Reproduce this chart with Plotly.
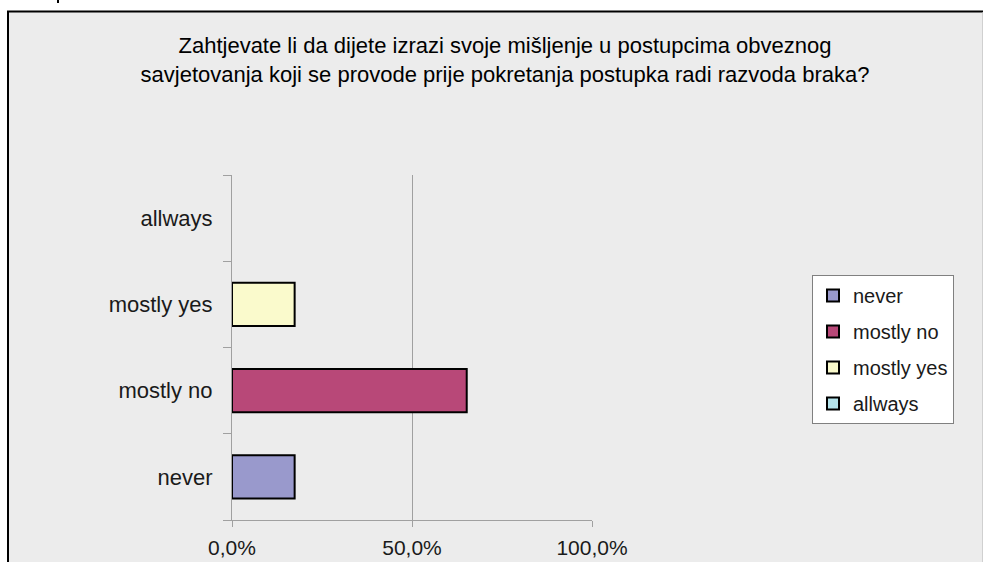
import plotly.graph_objects as go

categories = ["never", "mostly no", "mostly yes", "allways"]
values = [0.174, 0.652, 0.174, 0.0]
colors = ["#9999cc", "#b84878", "#fafacc", "#b4e4ec"]
x_ticks = [0, 0.5, 1.0]
title_text = ("Zahtjevate li da dijete izrazi svoje mišljenje u postupcima obveznog<br>"
              "savjetovanja koji se provode prije pokretanja postupka radi razvoda braka?")

W, H = 983, 562
L, T = 232, 175
PW, PH = 360, 345
R = W - L - PW
B = H - T - PH


def px(xp):  # page x -> paper fraction
    return (xp - L) / PW


def py(yp):  # page y -> paper fraction
    return (H - B - yp) / PH


FONT = "Liberation Sans, Arial, sans-serif"

fig = go.Figure()
for cat, val, col in zip(categories, values, colors):
    fig.add_trace(go.Bar(
        y=[cat], x=[val if val > 0 else None], name=cat, orientation="h",
        marker=dict(color=col, line=dict(color="#000000", width=2)),
        width=0.5, legendgroup=cat, showlegend=True,
    ))

shapes = [
    dict(type="rect", xref="paper", yref="paper", x0=px(-5), x1=px(1000), y0=py(11), y1=py(-5),
         fillcolor="white", line=dict(width=0), layer="below"),
    dict(type="rect", xref="paper", yref="paper", x0=px(-5), x1=px(7), y0=py(600), y1=py(11),
         fillcolor="white", line=dict(width=0), layer="below"),
    dict(type="line", xref="paper", yref="paper", x0=px(7), x1=px(1000), y0=py(11.5), y1=py(11.5),
         line=dict(color="black", width=2)),
    dict(type="line", xref="paper", yref="paper", x0=px(8), x1=px(8), y0=py(11), y1=py(600),
         line=dict(color="black", width=2)),
    dict(type="line", xref="paper", yref="paper", x0=px(982.5), x1=px(982.5), y0=py(12.5), y1=py(600),
         line=dict(color="#d0d0d0", width=1)),
    dict(type="line", xref="paper", yref="paper", x0=px(58), x1=px(58), y0=py(0), y1=py(3),
         line=dict(color="black", width=2)),
]

fig.update_layout(
    width=W, height=H,
    margin=dict(l=L, r=R, t=T, b=B, pad=0),
    paper_bgcolor="#ececec", plot_bgcolor="#ececec",
    barmode="overlay",
    separators=", ",
    font=dict(family=FONT, size=20, color="#1a1a1a"),
    title=dict(text=title_text, x=505 / W, xanchor="center", y=1 - 53 / H, yanchor="middle",
               yref="container", font=dict(family=FONT, size=22, color="#000000")),
    xaxis=dict(range=[0, 1], tickvals=x_ticks, tickformat=".1%", showgrid=True,
               gridcolor="#a0a0a0", gridwidth=1, zeroline=False, showline=True,
               linecolor="#a0a0a0", linewidth=1, ticks="outside", ticklen=6,
               tickcolor="#a0a0a0", tickfont=dict(size=21), ticklabelstandoff=3,
               automargin=False),
    yaxis=dict(categoryorder="array", categoryarray=categories, range=[-0.5, 3.5],
               showgrid=False, zeroline=False, showline=True, linecolor="#a0a0a0",
               linewidth=1, ticks="outside", ticklen=8, tickcolor="#a0a0a0",
               tickson="boundaries", tickfont=dict(size=22), ticklabelstandoff=14,
               automargin=False),
    legend=dict(x=px(812), y=py(275), xanchor="left", yanchor="top",
                bgcolor="white", bordercolor="#808080", borderwidth=1,
                font=dict(size=20, color="#1a1a1a"), traceorder="grouped",
                tracegroupgap=7, itemwidth=30),
    shapes=shapes,
)

fig.write_html(
    "out.html",
    config={"displayModeBar": False},
    post_script="document.body.style.margin='0px';"
                "document.documentElement.style.overflow='hidden';",
)
